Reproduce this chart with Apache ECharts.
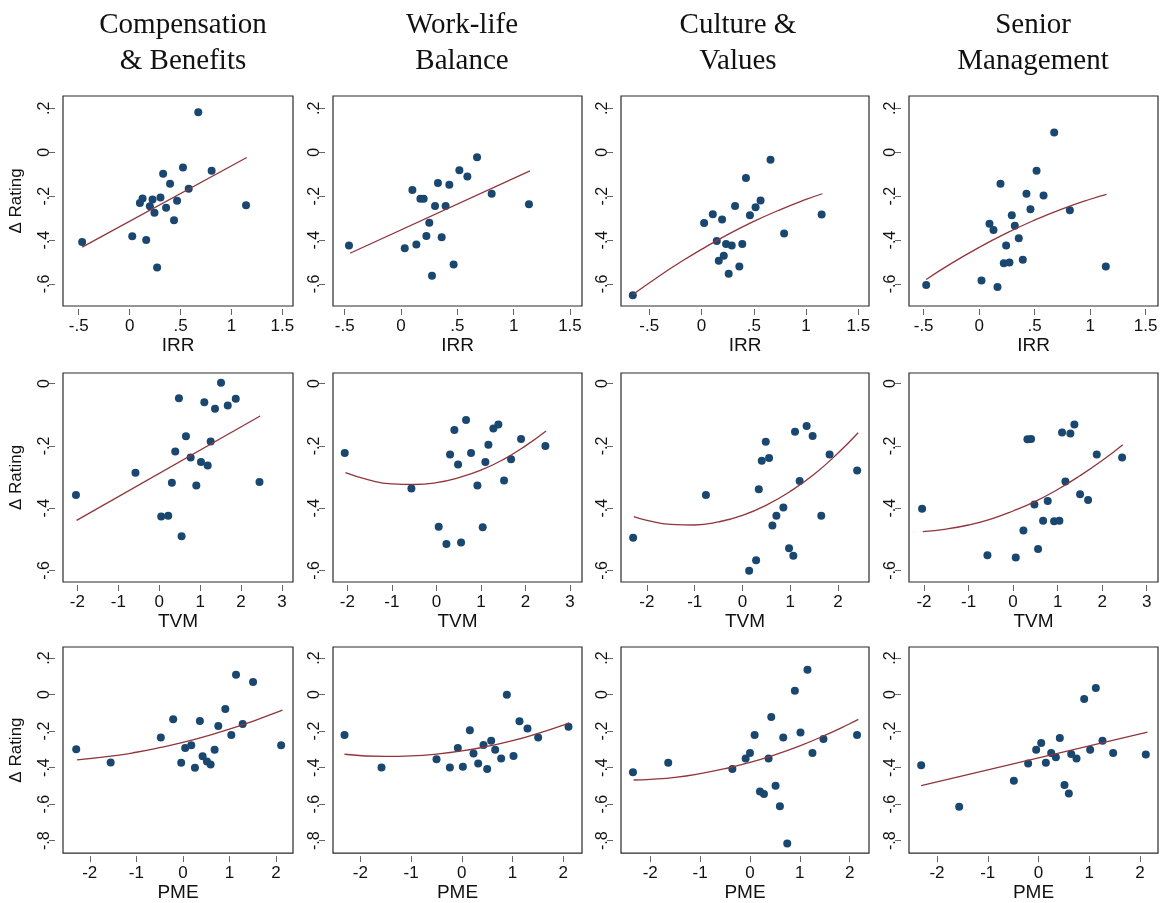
<!DOCTYPE html>
<html>
<head>
<meta charset="utf-8">
<script src="https://cdn.jsdelivr.net/npm/echarts@6/dist/echarts.min.js"></script>
<style>
  html, body { margin: 0; padding: 0; background: #fff; }
  #chart { width: 1164px; height: 903px; }
</style>
</head>
<body>
<div id="chart"></div>
<script>
// column / row labels
const colTitles = ['Compensation\n& Benefits', 'Work-life\nBalance', 'Culture &\nValues', 'Senior\nManagement'];
const rowVars = ['IRR', 'TVM', 'PME'];
const yName = 'Δ Rating';

// tick values
const irrTicks = [-0.5, 0, 0.5, 1, 1.5];
const tvmTicks = [-2, -1, 0, 1, 2, 3];
const tvmTicksShort = [-2, -1, 0, 1, 2];
const pmeTicks = [-2, -1, 0, 1, 2];
const yTicksIrr = [-0.6, -0.4, -0.2, 0, 0.2];
const yTicksTvm = [-0.6, -0.4, -0.2, 0];
const yTicksPme = [-0.8, -0.6, -0.4, -0.2, 0, 0.2];

// ---- row 1: IRR ----
const compIrrX = [0.674, 0.524, 0.805, 0.329, 0.397, 0.580, 0.127, 0.225, 0.303, 0.101, 0.199, 0.466, 0.358, 0.244, 0.436, 1.143, 0.026, 0.163, -0.466, 0.270];
const compIrrY = [0.182, -0.069, -0.084, -0.098, -0.144, -0.166, -0.211, -0.215, -0.206, -0.231, -0.246, -0.221, -0.253, -0.276, -0.310, -0.241, -0.382, -0.400, -0.409, -0.525];
const compIrrFitX = [-0.466, 1.150];
const compIrrFitY = [-0.432, -0.024];

const wlbIrrX = [0.675, 0.518, 0.589, 0.328, 0.429, 0.101, 0.172, 0.201, 0.805, 0.302, 0.396, 1.136, 0.251, 0.225, 0.361, 0.136, -0.462, 0.033, 0.467, 0.275];
const wlbIrrY = [-0.023, -0.082, -0.110, -0.140, -0.148, -0.172, -0.212, -0.212, -0.189, -0.245, -0.245, -0.237, -0.321, -0.381, -0.387, -0.420, -0.425, -0.437, -0.511, -0.562];
const wlbIrrFitX = [-0.453, 1.145];
const wlbIrrFitY = [-0.460, -0.085];

const cultIrrX = [0.660, 0.425, 0.565, 0.517, 0.321, 0.463, 0.108, 0.197, 0.025, 1.149, 0.790, 0.146, 0.235, 0.289, 0.390, 0.213, 0.165, 0.362, 0.260, -0.657];
const cultIrrY = [-0.034, -0.117, -0.220, -0.250, -0.245, -0.287, -0.282, -0.306, -0.322, -0.284, -0.370, -0.404, -0.418, -0.425, -0.418, -0.471, -0.494, -0.520, -0.553, -0.651];
const cultIrrFitX = [-0.657, -0.4, -0.2, 0, 0.25, 0.5, 0.75, 1, 1.156];
const cultIrrFitY = [-0.648, -0.562, -0.500, -0.442, -0.375, -0.315, -0.262, -0.215, -0.189];

const mgmtIrrX = [0.676, 0.517, 0.192, 0.426, 0.580, 0.462, 0.817, 0.294, 0.093, 0.321, 0.129, 0.357, 0.243, 0.222, 0.273, 0.393, 1.141, 0.021, 0.165, -0.477];
const mgmtIrrY = [0.090, -0.084, -0.143, -0.189, -0.197, -0.259, -0.264, -0.287, -0.325, -0.335, -0.354, -0.392, -0.425, -0.505, -0.502, -0.489, -0.520, -0.584, -0.614, -0.604];
const mgmtIrrFitX = [-0.477, -0.25, 0, 0.25, 0.5, 0.75, 1, 1.147];
const mgmtIrrFitY = [-0.579, -0.506, -0.433, -0.367, -0.309, -0.258, -0.214, -0.192];

// ---- row 2: TVM ----
const compTvmX = [1.511, 0.482, 1.871, 1.103, 1.675, 1.364, 0.654, 1.258, 0.392, 0.768, 1.021, 1.185, -0.580, 0.310, 0.907, 2.451, -2.034, 0.049, 0.221, 0.547];
const compTvmY = [0.003, -0.047, -0.049, -0.060, -0.070, -0.081, -0.169, -0.186, -0.218, -0.237, -0.252, -0.263, -0.286, -0.318, -0.327, -0.316, -0.358, -0.427, -0.424, -0.490];
const compTvmFitX = [-2.018, 2.467];
const compTvmFitY = [-0.439, -0.104];

const wlbTvmX = [0.666, 1.392, 1.280, 0.404, 1.901, 1.168, 2.448, -2.058, 0.307, 0.778, 0.487, 1.100, 1.677, 1.519, 0.921, -0.561, 0.052, 1.040, 0.554, 0.225];
const wlbTvmY = [-0.117, -0.131, -0.144, -0.149, -0.178, -0.196, -0.200, -0.223, -0.228, -0.223, -0.260, -0.252, -0.243, -0.311, -0.327, -0.337, -0.460, -0.461, -0.510, -0.515];
const wlbTvmFitX = [-2.043, -1.5, -1, -0.5, 0, 0.5, 1, 1.5, 2, 2.463];
const wlbTvmFitY = [-0.286, -0.310, -0.322, -0.324, -0.318, -0.302, -0.278, -0.244, -0.200, -0.152];

const cultTvmX = [1.342, 1.099, 1.467, 0.487, 1.822, 0.403, 0.556, 2.399, 1.196, 0.341, -0.765, 0.855, 0.709, 1.648, 0.626, -2.288, 0.974, 1.064, 0.285, 0.139];
const cultTvmY = [-0.136, -0.155, -0.168, -0.187, -0.228, -0.248, -0.239, -0.279, -0.313, -0.339, -0.358, -0.398, -0.424, -0.424, -0.456, -0.495, -0.529, -0.553, -0.567, -0.601];
const cultTvmFitX = [-2.274, -2, -1.5, -1, -0.5, 0, 0.5, 1, 1.5, 2, 2.42];
const cultTvmFitY = [-0.427, -0.439, -0.452, -0.454, -0.444, -0.423, -0.390, -0.346, -0.291, -0.223, -0.158];

const mgmtTvmX = [1.377, 1.100, 1.287, 0.322, 0.404, 1.879, 2.448, 1.175, 1.504, 1.684, 0.778, 0.479, -2.043, 0.674, 0.921, 1.040, 0.232, 0.561, -0.576, 0.060];
const mgmtTvmY = [-0.131, -0.157, -0.160, -0.179, -0.178, -0.228, -0.237, -0.314, -0.355, -0.374, -0.377, -0.388, -0.402, -0.440, -0.442, -0.440, -0.472, -0.531, -0.551, -0.558];
const mgmtTvmFitX = [-2.028, -1.5, -1, -0.5, 0, 0.5, 1, 1.5, 2, 2.463];
const mgmtTvmFitY = [-0.475, -0.467, -0.454, -0.435, -0.409, -0.378, -0.340, -0.296, -0.247, -0.196];

// ---- row 3: PME ----
const compPmeX = [1.142, 1.508, 0.912, -0.208, 0.366, 1.285, 0.761, -0.474, 1.041, -2.291, 2.111, 0.050, 0.180, 0.682, 0.424, 0.517, 0.596, -1.551, -0.036, 0.259];
const compPmeY = [0.108, 0.069, -0.079, -0.136, -0.145, -0.161, -0.172, -0.235, -0.222, -0.300, -0.278, -0.293, -0.278, -0.302, -0.338, -0.367, -0.383, -0.372, -0.374, -0.401];
const compPmeFitX = [-2.276, -1.5, -1, -0.5, 0, 0.5, 1, 1.5, 2, 2.14];
const compPmeFitY = [-0.358, -0.336, -0.316, -0.291, -0.262, -0.228, -0.190, -0.147, -0.099, -0.085];

const wlbPmeX = [0.887, 1.136, 1.294, 2.102, 0.158, -2.312, 1.504, 0.578, 0.427, -0.079, 0.657, 0.230, 1.018, 0.775, -0.499, 0.322, -1.583, -0.236, 0.020, 0.499];
const wlbPmeY = [-0.002, -0.146, -0.186, -0.177, -0.195, -0.222, -0.235, -0.253, -0.276, -0.293, -0.302, -0.323, -0.336, -0.350, -0.354, -0.378, -0.399, -0.399, -0.396, -0.408];
const wlbPmeFitX = [-2.312, -1.5, -1, -0.5, 0, 0.5, 1, 1.5, 2, 2.115];
const wlbPmeFitY = [-0.327, -0.339, -0.336, -0.326, -0.309, -0.284, -0.253, -0.213, -0.167, -0.155];

const cultPmeX = [1.153, 0.900, 0.427, 0.093, 0.667, 1.013, 2.147, 1.473, 0.000, 1.253, -0.087, 0.373, -1.640, -0.353, -2.347, 0.513, 0.200, 0.280, 0.600, 0.747];
const cultPmeY = [0.136, 0.020, -0.123, -0.222, -0.235, -0.208, -0.222, -0.244, -0.320, -0.320, -0.350, -0.350, -0.374, -0.408, -0.426, -0.499, -0.531, -0.544, -0.611, -0.815];
const cultPmeFitX = [-2.333, -2, -1.5, -1, -0.5, 0, 0.5, 1, 1.5, 2, 2.173];
const cultPmeFitY = [-0.468, -0.464, -0.453, -0.433, -0.406, -0.372, -0.330, -0.281, -0.224, -0.160, -0.136];

const mgmtPmeX = [1.130, 0.900, 0.420, 1.261, 0.053, -0.046, 1.018, 0.250, 1.471, 0.644, 2.115, 0.342, 0.749, 0.145, -0.204, -2.312, -0.486, 0.512, 0.598, -1.563];
const mgmtPmeY = [0.036, -0.025, -0.238, -0.253, -0.266, -0.302, -0.302, -0.320, -0.320, -0.325, -0.329, -0.343, -0.350, -0.374, -0.378, -0.387, -0.472, -0.495, -0.542, -0.614];
const mgmtPmeFitX = [-2.312, 2.148];
const mgmtPmeFitY = [-0.499, -0.206];

// panel list (row by row)
const panels = [
  { x: compIrrX, y: compIrrY, fx: compIrrFitX, fy: compIrrFitY, xr: [-0.654, 1.604], xt: irrTicks },
  { x: wlbIrrX, y: wlbIrrY, fx: wlbIrrFitX, fy: wlbIrrFitY, xr: [-0.604, 1.607], xt: irrTicks },
  { x: cultIrrX, y: cultIrrY, fx: cultIrrFitX, fy: cultIrrFitY, xr: [-0.770, 1.602], xt: irrTicks },
  { x: mgmtIrrX, y: mgmtIrrY, fx: mgmtIrrFitX, fy: mgmtIrrFitY, xr: [-0.632, 1.611], xt: irrTicks },
  { x: compTvmX, y: compTvmY, fx: compTvmFitX, fy: compTvmFitY, xr: [-2.351, 3.27], xt: tvmTicks },
  { x: wlbTvmX, y: wlbTvmY, fx: wlbTvmFitX, fy: wlbTvmFitY, xr: [-2.322, 3.27], xt: tvmTicks },
  { x: cultTvmX, y: cultTvmY, fx: cultTvmFitX, fy: cultTvmFitY, xr: [-2.542, 2.647], xt: tvmTicksShort },
  { x: mgmtTvmX, y: mgmtTvmY, fx: mgmtTvmFitX, fy: mgmtTvmFitY, xr: [-2.337, 3.254], xt: tvmTicks },
  { x: compPmeX, y: compPmeY, fx: compPmeFitX, fy: compPmeFitY, xr: [-2.575, 2.366], xt: pmeTicks },
  { x: wlbPmeX, y: wlbPmeY, fx: wlbPmeFitX, fy: wlbPmeFitY, xr: [-2.539, 2.368], xt: pmeTicks },
  { x: cultPmeX, y: cultPmeY, fx: cultPmeFitX, fy: cultPmeFitY, xr: [-2.587, 2.387], xt: pmeTicks },
  { x: mgmtPmeX, y: mgmtPmeY, fx: mgmtPmeFitX, fy: mgmtPmeFitY, xr: [-2.552, 2.355], xt: pmeTicks },
];
const rowY = [
  { r: [-0.70, 0.256], t: yTicksIrr },
  { r: [-0.637, 0.034], t: yTicksTvm },
  { r: [-0.868, 0.26], t: yTicksPme },
];

// layout (px)
const colLeft = [63, 333, 621, 909];
const colWidth = [230, 249, 248, 249];
const rowTop = [96, 373, 647];
const rowHeight = [210, 209, 209];
const titleX = [178, 457, 733, 1028];

const navy = '#1a476f';
const maroon = '#90353b';
const sans = 'Liberation Sans, Arial, sans-serif';

// stata style labels: .2, -.4, 0, 1.5
function fmt(v) {
  let s = String(Math.round(v * 10) / 10);
  return s.replace('0.', '.');
}

let grids = [], xAxes = [], yAxes = [], series = [];
panels.forEach((p, i) => {
  let row = Math.floor(i / 4), col = i % 4;
  grids.push({
    left: colLeft[col], top: rowTop[row], width: colWidth[col], height: rowHeight[row],
    show: true, borderColor: '#2a2a2a', borderWidth: 1.2, backgroundColor: '#fff',
  });
  xAxes.push({
    type: 'value', gridIndex: i, min: p.xr[0], max: p.xr[1], offset: 3,
    name: rowVars[row], nameLocation: 'middle', nameGap: 22,
    nameTextStyle: { fontFamily: sans, fontSize: 19, color: '#111' },
    axisLine: { show: false, onZero: false },
    axisTick: { show: true, length: 6, customValues: p.xt, lineStyle: { color: '#666' } },
    axisLabel: { fontFamily: sans, fontSize: 17, color: '#111', margin: 9, customValues: p.xt, formatter: fmt },
    splitLine: { show: false },
  });
  yAxes.push({
    type: 'value', gridIndex: i, min: rowY[row].r[0], max: rowY[row].r[1], offset: 8,
    name: col === 0 ? yName : '', nameLocation: 'middle', nameGap: 30, nameRotate: 90,
    nameTextStyle: { fontFamily: sans, fontSize: 17, color: '#111' },
    axisLine: { show: false, onZero: false },
    axisTick: { show: true, length: 6, customValues: rowY[row].t, lineStyle: { color: '#666' } },
    axisLabel: { fontFamily: sans, fontSize: 16, color: '#111', margin: 2, rotate: 90, customValues: rowY[row].t, formatter: fmt },
    splitLine: { show: false },
  });
  series.push({
    type: 'scatter', xAxisIndex: i, yAxisIndex: i,
    data: p.x.map((v, k) => [v, p.y[k]]),
    symbolSize: 8, itemStyle: { color: navy, opacity: 1 },
  });
  series.push({
    type: 'line', xAxisIndex: i, yAxisIndex: i,
    data: p.fx.map((v, k) => [v, p.fy[k]]),
    smooth: true, showSymbol: false, z: 3,
    lineStyle: { color: maroon, width: 1.3 },
  });
});

let titles = colTitles.map((t, c) => ({
  text: t, left: titleX[c], top: 2, textAlign: 'center',
  textStyle: { fontFamily: 'Liberation Serif, Times New Roman, serif', fontSize: 29, fontWeight: 'normal', color: '#111', lineHeight: 36 },
}));

const myChart = echarts.init(document.getElementById('chart'));
myChart.setOption({
  animation: false,
  backgroundColor: '#fff',
  title: titles,
  grid: grids,
  xAxis: xAxes,
  yAxis: yAxes,
  series: series,
});
</script>
</body>
</html>
